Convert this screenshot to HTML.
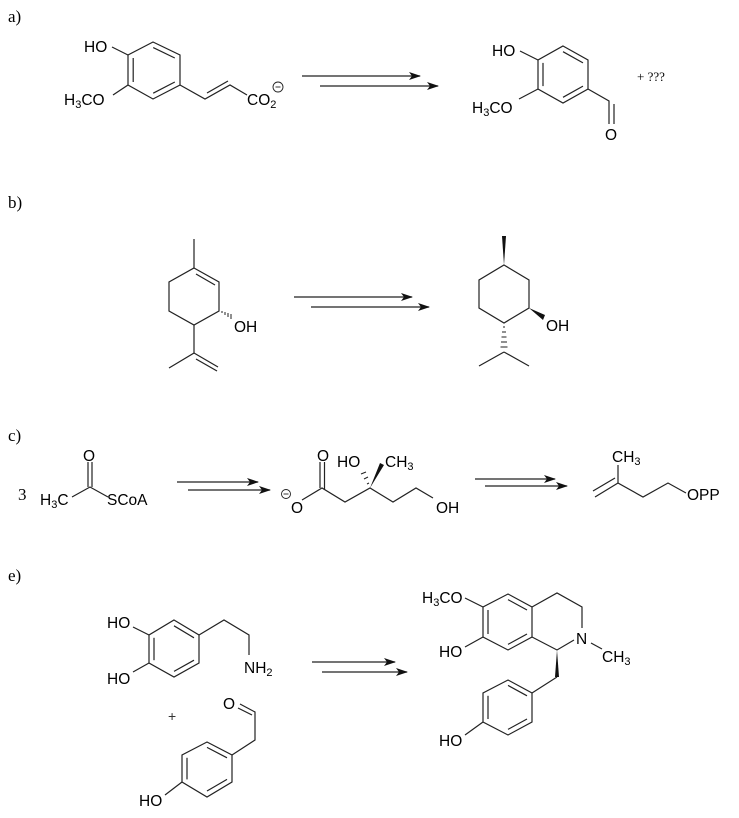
<!DOCTYPE html>
<html><head><meta charset="utf-8"><style>
html,body{margin:0;padding:0;background:#fff}
svg{display:block}
.l{stroke:#222;stroke-width:1.2;fill:none}
text{font-family:"Liberation Sans",sans-serif;font-size:15.5px;fill:#000}
.s{font-family:"Liberation Serif",serif;font-size:17px}
</style></head><body>
<svg width="739" height="818" viewBox="0 0 739 818" xmlns="http://www.w3.org/2000/svg">
<defs><marker id="ah" markerWidth="12" markerHeight="8" refX="11" refY="4" orient="auto" markerUnits="userSpaceOnUse"><path d="M0,0 L12,4 L0,8 L3,4z" fill="#111"/></marker></defs>
<!-- a -->
<text x="8" y="22" class="s">a)</text>
<g class="l">
<polygon points="153,42 180,55 180,85 153,99 128,85 128,55"/>
<line x1="153.2" y1="47.6" x2="174.8" y2="58"/><line x1="133.2" y1="58" x2="133.2" y2="82"/><line x1="174.8" y1="82" x2="153.2" y2="93.2"/>
<line x1="112" y1="47" x2="128" y2="55"/><line x1="113" y1="95" x2="128" y2="85"/>
<polyline points="180,85 205,99 230,85 247,95"/><line x1="207" y1="93" x2="228" y2="81"/>
<line x1="302" y1="76" x2="420" y2="76" marker-end="url(#ah)"/><line x1="320" y1="86" x2="438" y2="86" marker-end="url(#ah)"/>
<polygon points="563,46 588,60 588,89 563,103 538,89 538,60"/>
<line x1="563" y1="51.7" x2="583" y2="62.9"/><line x1="543" y1="62.9" x2="543" y2="86.1"/><line x1="583" y1="86.1" x2="563" y2="97.3"/>
<line x1="520" y1="51" x2="538" y2="60"/><line x1="519" y1="99" x2="538" y2="89"/>
<polyline points="588,89 609,101 609,124"/><line x1="614" y1="104" x2="614" y2="124"/>
<circle cx="278" cy="87" r="5" stroke-width="0.9"/><line x1="275.5" y1="87" x2="280.5" y2="87" stroke-width="0.9"/>
</g>
<text x="84" y="52">HO</text><text x="64" y="105">H<tspan font-size="11" dy="3">3</tspan><tspan dy="-3">CO</tspan></text>
<text x="247" y="105">CO<tspan font-size="11" dy="3">2</tspan></text>
<text x="492" y="56">HO</text><text x="472" y="113">H<tspan font-size="11" dy="3">3</tspan><tspan dy="-3">CO</tspan></text>
<text x="605" y="140">O</text>
<text x="637" y="81" class="s" style="font-size:13px">+ ???</text>
<!-- b -->
<text x="8" y="208" class="s">b)</text>
<g class="l">
<polygon points="194,268 219,282 219,311 194,325 169,311 169,282"/>
<line x1="196" y1="274" x2="215" y2="285"/><line x1="194" y1="268" x2="194" y2="239"/>
<polyline points="194,325 194,353 169,368"/><line x1="194" y1="353" x2="218" y2="367"/><line x1="196" y1="359" x2="217" y2="371"/>
<line x1="294" y1="297" x2="412" y2="297" marker-end="url(#ah)"/><line x1="311" y1="307" x2="429" y2="307" marker-end="url(#ah)"/>
<polygon points="504,265 529,280 529,308 504,323 479,308 479,280"/>
<polyline points="504,352 479,366"/><line x1="504" y1="352" x2="529" y2="366"/>
</g>
<g stroke="#222" stroke-width="1">
<line x1="222" y1="311" x2="222" y2="313"/><line x1="225" y1="312" x2="225" y2="315"/><line x1="228" y1="313" x2="228" y2="317"/><line x1="231" y1="314" x2="231" y2="319"/>
<line x1="503" y1="327" x2="505" y2="327"/><line x1="502" y1="332" x2="506" y2="332"/><line x1="501.5" y1="337" x2="506.5" y2="337"/><line x1="501" y1="342" x2="507" y2="342"/><line x1="500.5" y1="347" x2="507.5" y2="347"/>
</g>
<polygon points="504,265 502,236 506,236" fill="#111"/>
<polygon points="529,308 545,315 543,320" fill="#111"/>
<text x="234" y="332">OH</text><text x="546" y="331">OH</text>
<!-- c -->
<text x="8" y="441" class="s">c)</text>
<text x="18" y="500" class="s">3</text>
<g class="l">
<polyline points="72,497 90,487 108,497"/><line x1="88" y1="487" x2="88" y2="462"/><line x1="92" y1="487" x2="92" y2="462"/>
<line x1="177" y1="482" x2="258" y2="482" marker-end="url(#ah)"/><line x1="188" y1="490" x2="270" y2="490" marker-end="url(#ah)"/>
<polyline points="302,500 322,488 345,502 370,488 393,502 416,488 433,498"/>
<line x1="320" y1="488" x2="320" y2="462"/><line x1="324.5" y1="490" x2="324.5" y2="462"/>
<line x1="475" y1="479" x2="555" y2="479" marker-end="url(#ah)"/><line x1="485" y1="486" x2="567" y2="486" marker-end="url(#ah)"/>
<polyline points="618,465 618,483 643,497 668,483 686,493"/><line x1="618" y1="483" x2="595" y2="497"/><line x1="615" y1="478" x2="593" y2="491"/>
<circle cx="286" cy="494" r="4.5" stroke-width="0.9"/><line x1="283.5" y1="494" x2="288.5" y2="494" stroke-width="0.9"/>
</g>
<polygon points="370,488 380,463 384,465" fill="#111"/>
<g stroke="#222" stroke-width="1"><line x1="367" y1="484" x2="369" y2="483"/><line x1="364" y1="479" x2="368" y2="477"/><line x1="361" y1="474" x2="366" y2="472"/></g>
<text x="83" y="461">O</text><text x="40" y="505">H<tspan font-size="11" dy="3">3</tspan><tspan dy="-3">C</tspan></text><text x="107" y="505">SCoA</text>
<text x="291" y="513">O</text><text x="317" y="461">O</text><text x="337" y="467">HO</text><text x="385" y="467">CH<tspan font-size="11" dy="3">3</tspan></text><text x="436" y="513">OH</text>
<text x="612" y="462">CH<tspan font-size="11" dy="3">3</tspan></text><text x="687" y="500">OPP</text>
<!-- e -->
<text x="8" y="581" class="s">e)</text>
<g class="l">
<polygon points="174,620 199,635 199,663 174,677 149,663 149,635"/>
<line x1="174" y1="625.8" x2="194" y2="637.8"/><line x1="154" y1="637.8" x2="154" y2="660.2"/><line x1="194" y1="660.2" x2="174" y2="671.4"/>
<line x1="133" y1="627" x2="149" y2="635"/><line x1="133" y1="672" x2="149" y2="663"/>
<polyline points="199,635 224,620 249,635 249,655"/>
<polygon points="207,742 232,755 232,782 207,797 182,782 182,755"/>
<line x1="207" y1="747.4" x2="227" y2="757.8"/><line x1="187" y1="757.8" x2="187" y2="779.4"/><line x1="227" y1="779.4" x2="207" y2="791"/>
<line x1="165" y1="795" x2="182" y2="782"/>
<polyline points="232,755 255,740 255,712 240,704"/><line x1="252" y1="715" x2="238" y2="708"/>
<line x1="312" y1="662" x2="395" y2="662" marker-end="url(#ah)"/><line x1="322" y1="672" x2="407" y2="672" marker-end="url(#ah)"/>
<polygon points="508,594 532,607 532,637 508,650 483,637 483,607"/>
<line x1="508" y1="599.6" x2="527" y2="610"/><line x1="488" y1="610" x2="488" y2="634"/><line x1="527" y1="634" x2="508" y2="644.4"/>
<polyline points="532,607 557,593 582,607 582,628"/><polyline points="532,637 557,650 574,640"/>
<line x1="591" y1="643" x2="602" y2="649"/>
<line x1="465" y1="598" x2="483" y2="607"/><line x1="465" y1="647" x2="483" y2="637"/>
<polyline points="557,677 532,693"/>
<polygon points="508,680 532,693 532,722 508,735 483,722 483,693"/>
<line x1="508" y1="685.4" x2="527" y2="695.8"/><line x1="488" y1="695.8" x2="488" y2="719"/><line x1="527" y1="719" x2="508" y2="729.4"/>
<line x1="465" y1="735" x2="483" y2="722"/>
</g>
<polygon points="557,650 555,677 559,677" fill="#111"/>
<text x="107" y="628">HO</text><text x="107" y="684">HO</text>
<text x="244" y="673">NH<tspan font-size="11" dy="3">2</tspan></text>
<text x="168" y="721" style="font-size:14px;fill:#333">+</text>
<text x="223" y="709">O</text><text x="139" y="806">HO</text>
<text x="422" y="603">H<tspan font-size="11" dy="3">3</tspan><tspan dy="-3">CO</tspan></text>
<text x="439" y="657">HO</text><text x="576" y="644">N</text>
<text x="602" y="662">CH<tspan font-size="11" dy="3">3</tspan></text>
<text x="439" y="746">HO</text>
</svg>
</body></html>
